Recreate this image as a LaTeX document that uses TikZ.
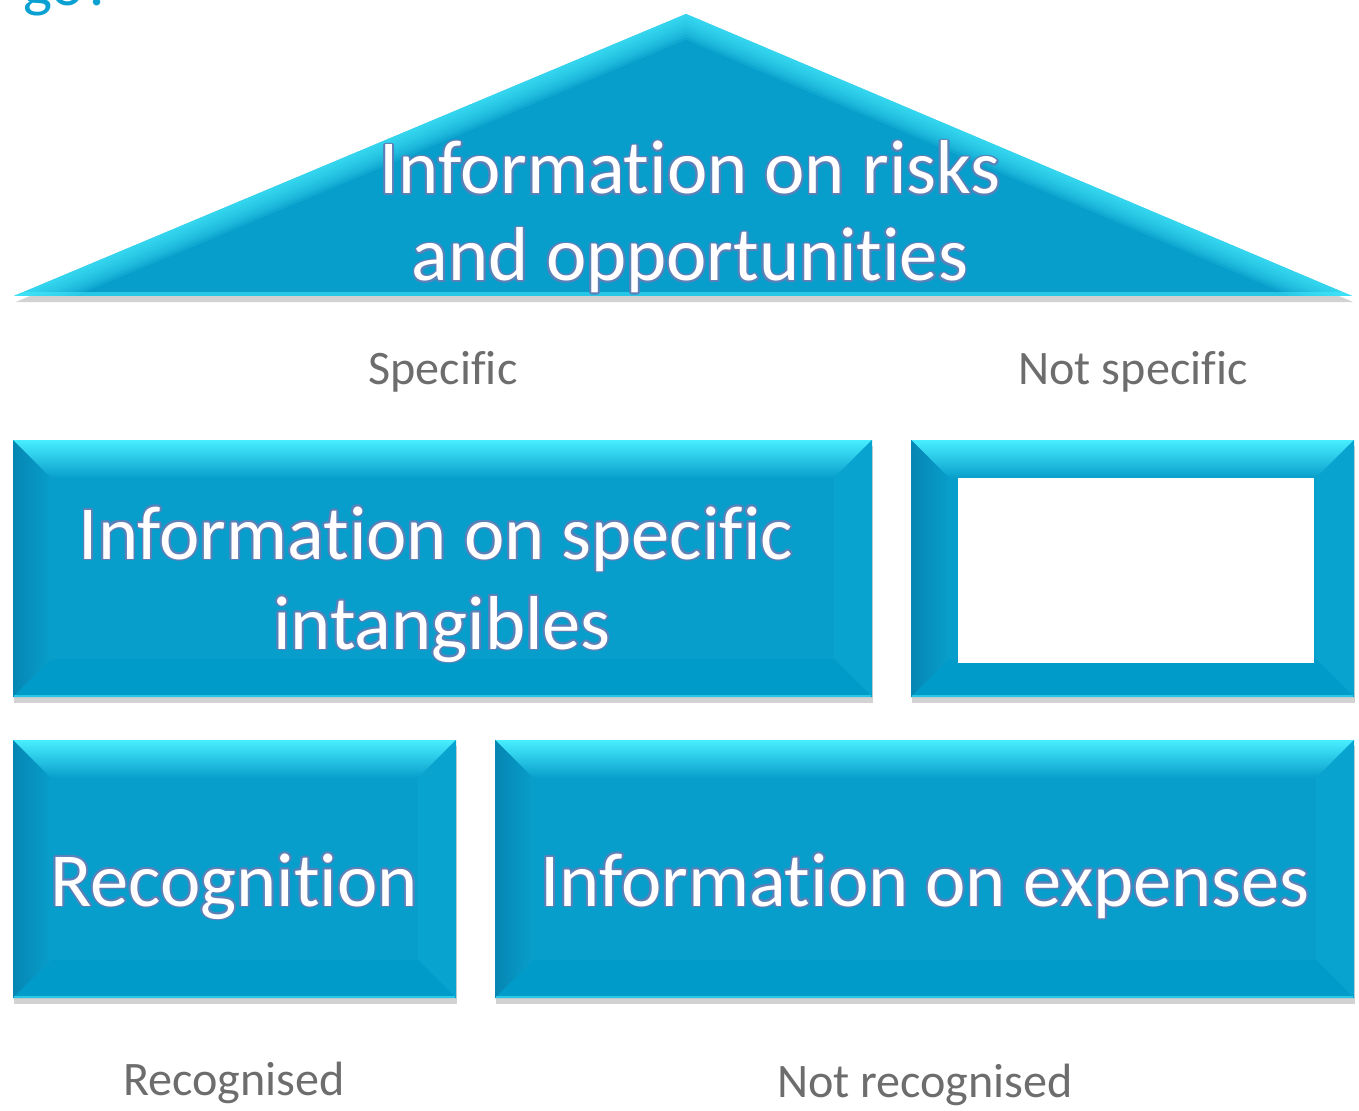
\documentclass[tikz,border=0pt]{standalone}
\usepackage{fontspec}
\setmainfont{Carlito}[Ligatures={NoCommon,NoRare,NoContextual}]
\usepackage{contour}
\usetikzlibrary{shadows}

\definecolor{facecol}{HTML}{089ECB}
\definecolor{topcyan}{HTML}{48EEFF}
\definecolor{leftdark}{HTML}{0686B2}
\definecolor{rightcol}{HTML}{08A3CF}
\definecolor{bottomcol}{HTML}{019BCA}
\definecolor{glowcol}{RGB}{92,128,184}
\definecolor{labelgray}{HTML}{6D6D6D}
\definecolor{titleblue}{HTML}{0AA0D2}

% white letters with a thin blue-grey outline
\contourlength{1.1pt}
\contournumber{10}
\newcommand\glow[1]{\contour{glowcol}{#1}}

\tikzset{
  boxshadow/.style={drop shadow={shadow xshift=0.8pt, shadow yshift=-3.5pt, opacity=0.25, fill=black!70}},
  bigtext/.style={text=white, font=\fontsize{43.5}{52}\selectfont, anchor=base, inner sep=0pt},
  labeltext/.style={text=labelgray, font=\fontsize{27.4}{32}\selectfont, anchor=base, inner sep=0pt},
}

% bevelled block: x1, y1 (top), x2, y2 (bottom)
\newcommand\bevelbox[4]{%
  \fill[facecol, boxshadow] (#1,#2) rectangle (#3,#4);
  \shade[top color=topcyan, bottom color=facecol]
    (#1,#2) -- (#3,#2) -- ({#3-38},{#2+38}) -- ({#1+38},{#2+38}) -- cycle;
  \shade[left color=leftdark, right color=facecol]
    (#1,#2) -- ({#1+38},{#2+38}) -- ({#1+38},{#4-38}) -- (#1,#4) -- cycle;
  \fill[rightcol]
    (#3,#2) -- ({#3-38},{#2+38}) -- ({#3-38},{#4-38}) -- (#3,#4) -- cycle;
  \fill[bottomcol]
    (#1,#4) -- (#3,#4) -- ({#3-38},{#4-38}) -- ({#1+38},{#4-38}) -- cycle;
  \draw[topcyan!50!facecol, line width=1.2pt] ({#1+1},{#4-1}) -- ({#3-1},{#4-1});
}

\begin{document}
\begin{tikzpicture}[x=0.02cm, y=-0.02cm]
\useasboundingbox (0,0) rectangle (1359,1111);

% cut-off title
\node[text=titleblue, font=\fontsize{35}{40}\selectfont, anchor=base west, inner sep=0pt]
  (title) at (23,6) {go?};

% roof
\begin{scope}
  \fill[facecol, boxshadow] (14,296) -- (686,14) -- (1352,296) -- cycle;
  \clip (14,296) -- (686,14) -- (1352,296) -- cycle;
  \foreach \w in {3,6,...,27}
    \draw[topcyan, opacity=0.13, line width=\w pt] (14,296) -- (686,14) -- (1352,296);
  \draw[topcyan, opacity=0.5, line width=4pt] (14,296) -- (1352,296);
\end{scope}
\node[bigtext] (risks1) at (690,194) {\glow{Information on risks}};
\node[bigtext] (risks2) at (690,281) {\glow{and opportunities}};

% middle row
\node[labeltext] (spec) at (443,385) {Specific};
\node[labeltext] (notspec) at (1133,385) {Not specific};

\bevelbox{13}{440}{872}{697}
\node[bigtext] (intang1) at (436,559) {\glow{Information on specific}};
\node[bigtext] (intang2) at (442,649) {\glow{intangibles}};

\bevelbox{911}{440}{1354}{697}
\fill[white] (958,478) rectangle (1314,663);

% bottom row
\bevelbox{13}{740}{456}{998}
\node[bigtext] (recog) at (234,906) {\glow{Recognition}};

\bevelbox{495}{740}{1354}{998}
\node[bigtext] (expenses) at (925,906) {\glow{Information on expenses}};

\node[labeltext] (recd) at (234,1095) {Recognised};
\node[labeltext] (notrecd) at (925,1097) {Not recognised};
\end{tikzpicture}
\end{document}
